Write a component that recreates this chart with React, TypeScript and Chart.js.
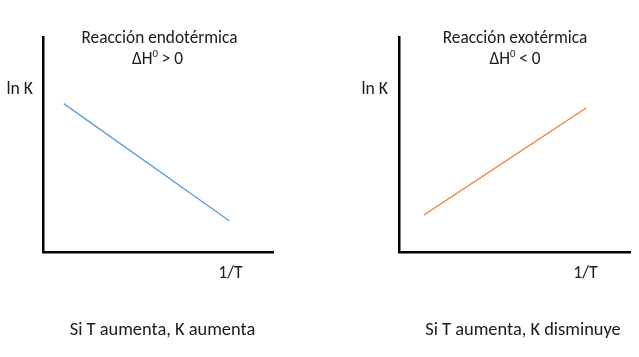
import React, { useEffect, useRef } from "react";
import { Chart, registerables } from "chart.js";

Chart.register(...registerables);

// Data (unitless schematic: x = 1/T, y = ln K)
const endoX = [0.09, 0.81];
const endoY = [0.69, 0.145];
const exoX = [0.108, 0.81];
const exoY = [0.172, 0.67];

const endoTitle = "Reacción endotérmica";
const exoTitle = "Reacción exotérmica";
const endoSign = ">";
const exoSign = "<";
const yLabel = "ln K";
const xLabel = "1/T";
const endoNote = "Si T aumenta, K aumenta";
const exoNote = "Si T aumenta, K disminuye";

const FONT = "Calibri, Carlito, Lato, 'Noto Sans', sans-serif";

type Part = { t: string; sup?: boolean };
type Lbl = { parts: Part[]; x: number; y: number; align: "left" | "center" | "right"; size: number };

const plain = (t: string): Part[] => [{ t }];
const dh = (sign: string): Part[] => [{ t: "ΔH" }, { t: "0", sup: true }, { t: ` ${sign} 0` }];

function makeLabelsPlugin(labels: Lbl[]) {
  return {
    id: "labels",
    afterDraw(chart: any) {
      const ctx = chart.ctx as CanvasRenderingContext2D;
      ctx.save();
      ctx.fillStyle = "#1a1a1a";
      ctx.textBaseline = "alphabetic";
      ctx.textAlign = "left";
      for (const l of labels) {
        const supSize = l.size * 0.62;
        const widths = l.parts.map((p) => {
          ctx.font = `${p.sup ? supSize : l.size}px ${FONT}`;
          return ctx.measureText(p.t).width;
        });
        const total = widths.reduce((a, b) => a + b, 0);
        let x = l.align === "center" ? l.x - total / 2 : l.align === "right" ? l.x - total : l.x;
        l.parts.forEach((p, i) => {
          ctx.font = `${p.sup ? supSize : l.size}px ${FONT}`;
          ctx.fillText(p.t, x, p.sup ? l.y - l.size * 0.38 : l.y);
          x += widths[i];
        });
      }
      ctx.restore();
    },
  };
}

function Panel(props: {
  xs: number[];
  ys: number[];
  color: string;
  left: number;
  width: number;
  padding: { left: number; top: number; right: number; bottom: number };
  labels: Lbl[];
}) {
  const ref = useRef<HTMLCanvasElement>(null);
  useEffect(() => {
    const data = props.xs.map((x, i) => ({ x, y: props.ys[i] }));
    const chart = new Chart(ref.current!, {
      type: "scatter",
      data: {
        datasets: [
          {
            data,
            showLine: true,
            borderColor: props.color,
            backgroundColor: props.color,
            borderWidth: 1.3,
            pointRadius: 0,
          },
        ],
      },
      options: {
        animation: false,
        responsive: false,
        events: [],
        layout: { padding: props.padding },
        plugins: { legend: { display: false }, tooltip: { enabled: false }, title: { display: false } },
        scales: {
          x: {
            type: "linear",
            min: 0,
            max: 1,
            grid: { display: false },
            ticks: { display: false },
            border: { display: true, color: "#000", width: 2.5 },
            afterFit: (s: any) => { s.height = 0; },
          },
          y: {
            type: "linear",
            min: 0,
            max: 1,
            grid: { display: false },
            ticks: { display: false },
            border: { display: true, color: "#000", width: 2.5 },
            afterFit: (s: any) => { s.width = 0; },
          },
        },
      },
      plugins: [makeLabelsPlugin(props.labels)],
    });
    return () => chart.destroy();
  }, []);
  return (
    <canvas
      ref={ref}
      width={props.width}
      height={357}
      style={{ position: "absolute", left: props.left, top: 0, width: props.width, height: 357 }}
    />
  );
}

export default function App() {
  return (
    <div style={{ position: "fixed", left: 0, top: 0, width: 639, height: 357, background: "#fff" }}>
      <Panel
        xs={endoX}
        ys={endoY}
        color="#5B9BD5"
        left={0}
        width={320}
        padding={{ left: 43, top: 37, right: 47, bottom: 105 }}
        labels={[
          { parts: plain(endoTitle), x: 159.5, y: 43, align: "center", size: 17.3 },
          { parts: dh(endoSign), x: 157.5, y: 64, align: "center", size: 17.3 },
          { parts: plain(yLabel), x: 33, y: 94, align: "right", size: 17.7 },
          { parts: plain(xLabel), x: 230.5, y: 278, align: "center", size: 17.7 },
          { parts: plain(endoNote), x: 162.5, y: 335, align: "center", size: 18.4 },
        ]}
      />
      <Panel
        xs={exoX}
        ys={exoY}
        color="#ED7D31"
        left={320}
        width={319}
        padding={{ left: 79, top: 37, right: 9, bottom: 105 }}
        labels={[
          { parts: plain(exoTitle), x: 195, y: 43, align: "center", size: 17.3 },
          { parts: dh(exoSign), x: 195, y: 64, align: "center", size: 17.3 },
          { parts: plain(yLabel), x: 68, y: 94, align: "right", size: 17.7 },
          { parts: plain(xLabel), x: 265.5, y: 278, align: "center", size: 17.7 },
          { parts: plain(exoNote), x: 203, y: 335, align: "center", size: 18.4 },
        ]}
      />
    </div>
  );
}
